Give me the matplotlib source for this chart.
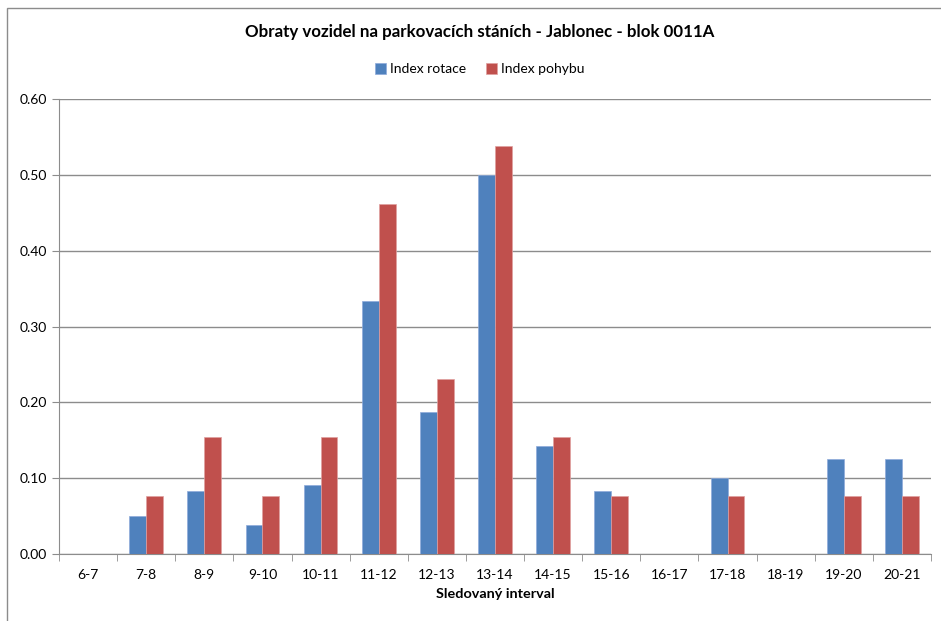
import matplotlib.pyplot as plt
from matplotlib.patches import Rectangle
import numpy as np

plt.rcParams['font.family'] = ['Lato', 'DejaVu Sans']

intervals = ['6-7', '7-8', '8-9', '9-10', '10-11', '11-12', '12-13', '13-14',
             '14-15', '15-16', '16-17', '17-18', '18-19', '19-20', '20-21']
index_rotace = [0, 0.050, 0.083, 0.038, 0.091, 0.333, 0.1875, 0.500,
                0.143, 0.083, 0, 0.100, 0, 0.125, 0.125]
index_pohybu = [0, 0.077, 0.154, 0.077, 0.154, 0.462, 0.231, 0.538,
                0.154, 0.077, 0, 0.077, 0, 0.077, 0.077]

W, H = 941, 621
fig = plt.figure(figsize=(W / 100, H / 100), dpi=100)
ax = fig.add_axes([59 / W, 67 / H, (931 - 59) / W, (554 - 99) / H])

x = np.arange(len(intervals))
bw = 0.29
ax.bar(x - bw / 2, index_rotace, bw, color='#4F81BD', edgecolor='#8EAADB',
       linewidth=0.5, label='Index rotace', zorder=3)
ax.bar(x + bw / 2, index_pohybu, bw, color='#C0504D', edgecolor='#E0A0A0',
       linewidth=0.5, label='Index pohybu', zorder=3)

ax.set_xlim(-0.5, len(intervals) - 0.5)
ax.set_ylim(0, 0.6)
ax.set_yticks(np.arange(0, 0.61, 0.1))
ax.set_yticklabels([f'{v:.2f}' for v in np.arange(0, 0.61, 0.1)])
ax.yaxis.grid(True, color='#8C8C8C', linewidth=1)
ax.set_axisbelow(True)

ax.set_xticks(x)
ax.set_xticklabels(intervals)
ax.set_xticks(np.arange(-0.5, len(intervals)), minor=True)
ax.tick_params(axis='x', which='major', length=0, pad=11, labelsize=10)
ax.tick_params(axis='x', which='minor', length=5, color='#8C8C8C', direction='out')
ax.tick_params(axis='y', length=5, color='#8C8C8C', labelsize=10, pad=4)

for s in ['top', 'right']:
    ax.spines[s].set_visible(False)
for s in ['left', 'bottom']:
    ax.spines[s].set_color('#8C8C8C')

ax.set_xlabel('Sledovaný interval', fontweight='bold', fontsize=10.4, labelpad=5)
fig.text(0.5 * (243 + 716) / W, 1 - 32 / H,
         'Obraty vozidel na parkovacích stáních - Jablonec - blok 0011A',
         ha='center', va='center', fontweight='bold', fontsize=12.2)

fig.legend(loc='center', bbox_to_anchor=(480 / W, 1 - 69 / H), ncol=2,
           frameon=False, fontsize=10, handlelength=0.8, handleheight=0.8,
           handletextpad=0.3, columnspacing=1.4)

fig.patches.append(Rectangle((7 / W, -0.1), 1.2, 1.1 - 8 / H, transform=fig.transFigure,
                             fill=False, edgecolor='#8C8C8C', linewidth=1))

fig.savefig('out.png', dpi=100)
